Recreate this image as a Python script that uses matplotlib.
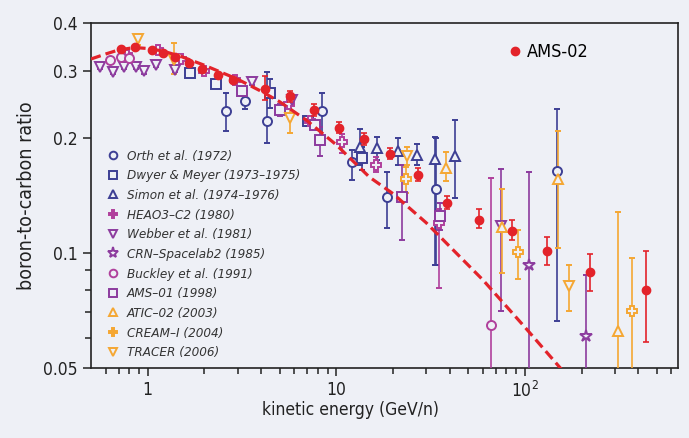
import matplotlib
matplotlib.use('Agg')
import matplotlib.pyplot as plt
from matplotlib.lines import Line2D
from matplotlib.ticker import FixedLocator, FixedFormatter, NullFormatter
import numpy as np

plt.rcParams['font.stretch'] = 'condensed'

BG = '#eef0f6'
NAVY = '#3d3f94'
PURPLE = '#8c3b9e'
MAGENTA = '#b0409c'
ORANGE = '#f5a733'
RED = '#e3232a'
FONT = ['DejaVu Sans']

# ---- data: energy (GeV/n), ratio, lower bound, upper bound ----
orth_e = [2.6, 3.3, 4.3, 8.4, 12.1, 18.6, 33.8, 148]
orth_r = [0.235, 0.250, 0.221, 0.235, 0.173, 0.140, 0.147, 0.164]
orth_lo = [0.208, 0.238, 0.194, 0.200, 0.155, 0.116, 0.093, 0.0664]
orth_hi = [0.262, 0.265, 0.298, 0.262, 0.186, 0.163, 0.200, 0.238]

dwyer_e = [1.67, 2.3, 4.45, 7.1, 13.7]
dwyer_r = [0.296, 0.277, 0.262, 0.221, 0.177]
dwyer_lo = [0.290, 0.270, 0.240, 0.215, 0.165]
dwyer_hi = [0.302, 0.284, 0.285, 0.227, 0.190]

simon_e = [13.4, 16.5, 21.2, 26.8, 33.5, 42.8]
simon_r = [0.190, 0.188, 0.185, 0.181, 0.176, 0.179]
simon_lo = [0.170, 0.175, 0.170, 0.170, 0.093, 0.139]
simon_hi = [0.211, 0.201, 0.200, 0.193, 0.201, 0.223]

heao_e = [0.78, 1.13, 1.5, 2.0, 2.9, 5.6, 7.3, 10.7, 16.3, 35.0]
heao_r = [0.330, 0.340, 0.322, 0.300, 0.283, 0.245, 0.222, 0.195, 0.170, 0.120]
heao_lo = [0.325, 0.335, 0.317, 0.295, 0.278, 0.238, 0.215, 0.183, 0.163, 0.081]
heao_hi = [0.335, 0.345, 0.327, 0.305, 0.288, 0.252, 0.229, 0.205, 0.178, 0.130]

webber_e = [0.556, 0.654, 0.748, 0.871, 0.956, 1.11, 1.39, 3.56, 5.8, 74.5]
webber_r = [0.307, 0.298, 0.307, 0.307, 0.299, 0.311, 0.301, 0.281, 0.252, 0.118]
webber_lo = [0.303, 0.294, 0.303, 0.303, 0.295, 0.307, 0.297, 0.276, 0.246, 0.0706]
webber_hi = [0.311, 0.302, 0.311, 0.311, 0.303, 0.315, 0.305, 0.286, 0.258, 0.166]

crn_e = [105, 211]
crn_r = [0.093, 0.0605]
crn_lo = [0.040, 0.040]
crn_hi = [0.163, 0.0874]

buckley_e = [0.63, 0.725, 0.80, 66.5]
buckley_r = [0.320, 0.326, 0.323, 0.0649]
buckley_lo = [0.316, 0.322, 0.319, 0.040]
buckley_hi = [0.324, 0.330, 0.327, 0.157]

ams01_e = [3.15, 5.03, 7.7, 8.2, 22.3, 35.7]
ams01_r = [0.265, 0.237, 0.216, 0.198, 0.140, 0.125]
ams01_lo = [0.258, 0.228, 0.210, 0.179, 0.108, 0.115]
ams01_hi = [0.272, 0.246, 0.222, 0.214, 0.170, 0.135]

atic_e = [38.4, 75.5, 150, 311]
atic_r = [0.167, 0.117, 0.156, 0.0624]
atic_lo = [0.154, 0.0888, 0.103, 0.040]
atic_hi = [0.184, 0.147, 0.209, 0.128]

cream_e = [23.3, 92, 370]
cream_r = [0.156, 0.1005, 0.0704]
cream_lo = [0.144, 0.0855, 0.040]
cream_hi = [0.168, 0.115, 0.097]

tracer_e = [0.89, 1.38, 5.7, 23.8, 172]
tracer_r = [0.363, 0.321, 0.225, 0.179, 0.0822]
tracer_lo = [0.350, 0.295, 0.206, 0.170, 0.0706]
tracer_hi = [0.375, 0.354, 0.245, 0.190, 0.0932]

ams02_e = [0.72, 0.86, 1.05, 1.2, 1.4, 1.65, 1.95, 2.35, 2.85, 4.2, 5.7, 7.6,
           10.4, 14, 19.3, 27.3, 38.8, 57, 85.6, 132, 221, 441]
ams02_r = [0.342, 0.346, 0.340, 0.333, 0.325, 0.315, 0.303, 0.292, 0.283, 0.268,
           0.257, 0.237, 0.213, 0.199, 0.182, 0.160, 0.135, 0.122, 0.1145, 0.1015,
           0.089, 0.080]
ams02_lo = [0.338, 0.342, 0.336, 0.329, 0.321, 0.311, 0.299, 0.288, 0.279, 0.252,
            0.248, 0.229, 0.206, 0.192, 0.176, 0.154, 0.130, 0.1165, 0.108, 0.093,
            0.0796, 0.0584]
ams02_hi = [0.346, 0.350, 0.344, 0.337, 0.329, 0.319, 0.307, 0.296, 0.287, 0.290,
            0.266, 0.245, 0.220, 0.206, 0.188, 0.167, 0.141, 0.130, 0.122, 0.110,
            0.0996, 0.1013]

model_e = [0.5, 0.6, 0.7, 0.85, 1.0, 1.2, 1.5, 2, 3, 4, 5, 7, 10, 15, 20, 30,
           40, 60, 100, 160]
model_r = [0.322, 0.332, 0.340, 0.345, 0.343, 0.338, 0.327, 0.310, 0.285, 0.265,
           0.249, 0.222, 0.192, 0.158, 0.143, 0.120, 0.104, 0.085, 0.064, 0.049]

series = [
    ('Orth et al. (1972)', orth_e, orth_r, orth_lo, orth_hi, 'o', NAVY, False),
    ('Dwyer & Meyer (1973\u20131975)', dwyer_e, dwyer_r, dwyer_lo, dwyer_hi, 's', NAVY, False),
    ('Simon et al. (1974\u20131976)', simon_e, simon_r, simon_lo, simon_hi, '^', NAVY, False),
    ('HEAO3\u2013C2 (1980)', heao_e, heao_r, heao_lo, heao_hi, 'P', MAGENTA, True),
    ('Webber et al. (1981)', webber_e, webber_r, webber_lo, webber_hi, 'v', PURPLE, False),
    ('CRN\u2013Spacelab2 (1985)', crn_e, crn_r, crn_lo, crn_hi, '*', PURPLE, False),
    ('Buckley et al. (1991)', buckley_e, buckley_r, buckley_lo, buckley_hi, 'o', MAGENTA, False),
    ('AMS\u201301 (1998)', ams01_e, ams01_r, ams01_lo, ams01_hi, 's', PURPLE, False),
    ('ATIC\u201302 (2003)', atic_e, atic_r, atic_lo, atic_hi, '^', ORANGE, False),
    ('CREAM\u2013I (2004)', cream_e, cream_r, cream_lo, cream_hi, 'P', ORANGE, True),
    ('TRACER (2006)', tracer_e, tracer_r, tracer_lo, tracer_hi, 'v', ORANGE, False),
]

fig = plt.figure(figsize=(6.89, 4.38), dpi=100, facecolor=BG)
ax = fig.add_axes([91/689, 70/438, 587/689, 345/438], facecolor=BG)
ax.set_xscale('log')
ax.set_yscale('log')

handles = []
for label, e, r, lo, hi, m, c, filled in series:
    e = np.array(e); r = np.array(r)
    yerr = [r - np.array(lo), np.array(hi) - r]
    ms = 9 if m == '*' else 6.5
    ax.errorbar(e, r, yerr=yerr, fmt=m, color=c, ms=ms, mfc=BG, mec=c, mew=1.4,
                elinewidth=1.2, capsize=2.5, capthick=1.2, zorder=3)
    handles.append(Line2D([], [], ls='none', marker=m, ms=ms - 1, color=c,
                          mfc=(c if filled else 'none'), mec=c, mew=1.4, label=label))

ax.plot(model_e, model_r, ls=(0, (3.2, 1.6)), color=RED, lw=2.3, zorder=4)

ams_r = np.array(ams02_r); ams_e = np.array(ams02_e)
ax.errorbar(ams_e, ams_r, yerr=[ams_r - np.array(ams02_lo), np.array(ams02_hi) - ams_r],
            fmt='o', color=RED, ms=6, mec=RED, elinewidth=1.2, capsize=2.5,
            capthick=1.2, zorder=5)

ax.set_xlim(0.5, 650)
ax.set_ylim(0.05, 0.4)

ax.yaxis.set_major_locator(FixedLocator([0.05, 0.1, 0.2, 0.3, 0.4]))
ax.yaxis.set_major_formatter(FixedFormatter(['0.05', '0.1', '0.2', '0.3', '0.4']))
ax.yaxis.set_minor_locator(FixedLocator([0.06, 0.07, 0.08, 0.09]))
ax.yaxis.set_minor_formatter(NullFormatter())
ax.xaxis.set_major_locator(FixedLocator([1, 10, 100]))
ax.xaxis.set_major_formatter(FixedFormatter(['1', '10', r'10$^2$']))
ax.xaxis.set_minor_locator(FixedLocator([0.6, 0.7, 0.8, 0.9] + list(range(2, 10)) +
                                        list(range(20, 100, 10)) + list(range(200, 700, 100))))
ax.xaxis.set_minor_formatter(NullFormatter())

ax.tick_params(which='major', direction='out', length=6, width=1.1, labelsize=12.5,
               color='#222222', labelcolor='#222222')
ax.tick_params(which='minor', direction='out', length=4, width=1.1, color='#222222')
for lab in ax.get_xticklabels() + ax.get_yticklabels():
    lab.set_family(FONT)
for s in ax.spines.values():
    s.set_linewidth(1.2)
    s.set_color('#222222')

ax.set_ylabel('boron-to-carbon ratio', fontsize=14, family=FONT, color='#222222', labelpad=5)
fig.text(351/689, 1 - 410/438, 'kinetic energy (GeV/n)', fontsize=12.5, family=FONT,
         color='#222222', ha='center', va='center')

leg = ax.legend(handles=handles, loc='upper left', bbox_to_anchor=(0.02, 0.648),
                frameon=False, handlelength=0.8, handletextpad=0.6, labelspacing=0.5,
                borderaxespad=0, prop={'family': FONT, 'style': 'italic', 'size': 9.6})
for t in leg.get_texts():
    t.set_color('#333333')
ax.add_artist(leg)

h2 = Line2D([], [], ls='none', marker='o', ms=6, color=RED, label='AMS-02')
ax.legend(handles=[h2], loc='upper left', bbox_to_anchor=(0.70, 0.962), frameon=False,
          handlelength=0.6, handletextpad=0.4, borderaxespad=0,
          prop={'family': FONT, 'size': 13})

fig.savefig('out.png', dpi=100, facecolor=BG)
